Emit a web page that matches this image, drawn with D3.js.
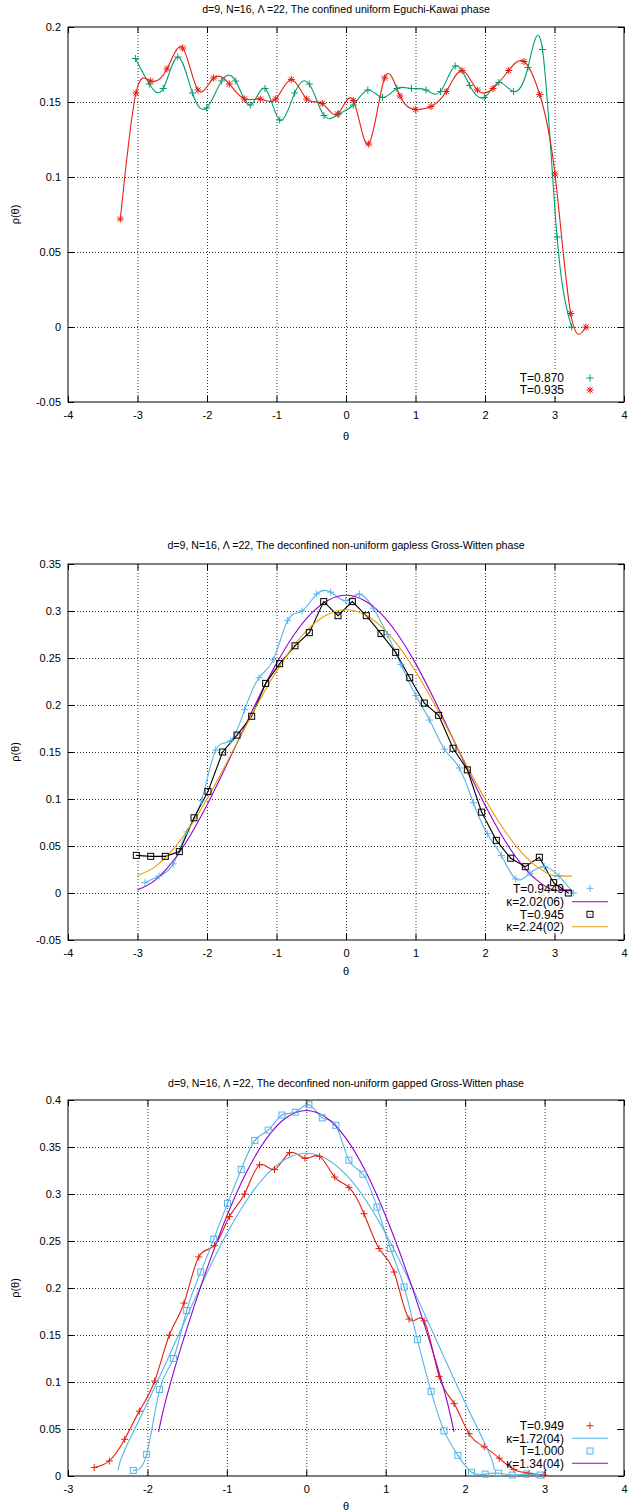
<!DOCTYPE html>
<html><head><meta charset="utf-8">
<script src="https://cdn.jsdelivr.net/npm/d3@7"></script>
<style>
body{margin:0;background:#fff}
text{font-family:"Liberation Sans",Arial,sans-serif;font-size:11px;fill:#000}
</style>
</head><body>
<svg id="c" width="630" height="1511"></svg>
<script>
// ---------------- Panel 1 data ----------------
const p1Title = "d=9, N=16, \u039B =22, The confined uniform Eguchi-Kawai phase";
const p1XTicks = [-4,-3,-2,-1,0,1,2,3,4];
const p1YTicks = [-0.05,0,0.05,0.1,0.15,0.2];
const p1YTickLabels = ["-0.05","0","0.05","0.1","0.15","0.2"];
const p1GreenTheta = [-3.030,-2.830,-2.630,-2.420,-2.210,-2.005,-1.790,-1.587,-1.377,-1.165,-0.954,-0.738,-0.528,-0.317,-0.105,0.105,0.314,0.524,0.733,0.942,1.152,1.361,1.571,1.780,1.990,2.199,2.409,2.618,2.827,3.037,3.246];
const p1GreenRho   = [0.179,0.162,0.159,0.180,0.156,0.146,0.164,0.164,0.148,0.159,0.138,0.156,0.162,0.141,0.142,0.148,0.158,0.153,0.159,0.159,0.158,0.157,0.174,0.161,0.153,0.163,0.157,0.173,0.185,0.060,0.000];
const p1RedTheta = [-3.247,-3.022,-2.810,-2.576,-2.350,-2.130,-1.904,-1.679,-1.463,-1.233,-1.012,-0.787,-0.566,-0.341,-0.120,0.105,0.326,0.556,0.777,1.003,1.223,1.443,1.669,1.890,2.115,2.341,2.561,2.787,3.007,3.233,3.453];
const p1RedRho   = [0.072,0.156,0.164,0.172,0.186,0.158,0.166,0.162,0.152,0.152,0.152,0.165,0.152,0.149,0.142,0.151,0.122,0.166,0.154,0.145,0.147,0.157,0.171,0.158,0.159,0.171,0.177,0.155,0.102,0.009,0.000];
const p1Legend = ["T=0.870","T=0.935"];

// ---------------- Panel 2 data ----------------
const p2Title = "d=9, N=16, \u039B =22, The deconfined non-uniform gapless Gross-Witten phase";
const p2XTicks = [-4,-3,-2,-1,0,1,2,3,4];
const p2YTicks = [-0.05,0,0.05,0.1,0.15,0.2,0.25,0.3,0.35];
const p2YTickLabels = ["-0.05","0","0.05","0.1","0.15","0.2","0.25","0.3","0.35"];
const p2BlueTheta = [-2.892,-2.690,-2.485,-2.290,-2.080,-1.875,-1.659,-1.458,-1.252,-1.046,-0.839,-0.633,-0.422,-0.220,-0.004,0.192,0.393,0.595,0.791,1.003,1.204,1.415,1.631,1.832,2.033,2.235,2.442,2.647,2.853,3.065,3.271];
const p2BlueRho   = [0.011,0.018,0.031,0.065,0.098,0.152,0.162,0.195,0.229,0.248,0.290,0.300,0.318,0.320,0.311,0.318,0.303,0.275,0.243,0.210,0.184,0.153,0.133,0.096,0.063,0.040,0.015,0.021,0.028,0.018,0.000];
const p2BlackTheta = [-3.017,-2.810,-2.600,-2.398,-2.187,-1.986,-1.775,-1.568,-1.357,-1.156,-0.955,-0.734,-0.528,-0.321,-0.115,0.091,0.292,0.504,0.715,0.917,1.127,1.333,1.540,1.746,1.952,2.163,2.370,2.580,2.782,2.988,3.199];
const p2BlackRho   = [0.040,0.039,0.039,0.044,0.080,0.108,0.150,0.168,0.188,0.223,0.244,0.263,0.277,0.310,0.295,0.310,0.295,0.276,0.256,0.229,0.202,0.189,0.154,0.131,0.086,0.056,0.037,0.028,0.038,0.011,0.000];
const p2FitTheta = [-3,-2.75,-2.5,-2.25,-2,-1.75,-1.5,-1.25,-1,-0.75,-0.5,-0.25,0,0.25,0.5,0.75,1,1.25,1.5,1.75,2,2.25,2.5,2.75,3,3.25];
const p2PurpleRho = [0.0032,0.0135,0.0329,0.0602,0.0936,0.1311,0.1703,0.2088,0.2443,0.2745,0.2974,0.3118,0.3167,0.3118,0.2974,0.2745,0.2443,0.2088,0.1703,0.1311,0.0936,0.0602,0.0329,0.0135,0.0032,0.0025];
const p2OrangeRho = [0.0185,0.0278,0.0453,0.0699,0.1000,0.1338,0.1692,0.2040,0.2359,0.2631,0.2839,0.2968,0.3013,0.2968,0.2839,0.2631,0.2359,0.2040,0.1692,0.1338,0.1000,0.0699,0.0453,0.0278,0.0185,0.0179];
const p2Legend = ["T=0.9449","\u03BA=2.02(06)","T=0.945","\u03BA=2.24(02)"];

// ---------------- Panel 3 data ----------------
const p3Title = "d=9, N=16, \u039B =22, The deconfined non-uniform gapped Gross-Witten phase";
const p3XTicks = [-3,-2,-1,0,1,2,3,4];
const p3YTicks = [0,0.05,0.1,0.15,0.2,0.25,0.3,0.35,0.4];
const p3YTickLabels = ["0","0.05","0.1","0.15","0.2","0.25","0.3","0.35","0.4"];
const p3RedTheta = [-2.670,-2.480,-2.287,-2.102,-1.909,-1.724,-1.539,-1.354,-1.156,-0.967,-0.778,-0.589,-0.400,-0.211,-0.017,0.168,0.357,0.537,0.727,0.916,1.105,1.294,1.483,1.672,1.861,2.050,2.240,2.429,2.614,2.803,2.992];
const p3RedRho   = [0.009,0.016,0.039,0.069,0.101,0.150,0.184,0.233,0.245,0.276,0.300,0.331,0.326,0.344,0.338,0.340,0.318,0.307,0.279,0.242,0.217,0.167,0.165,0.106,0.077,0.045,0.031,0.019,0.007,0.003,0.001];
const p3SquareTheta = [-2.178,-2.010,-1.846,-1.673,-1.506,-1.329,-1.165,-0.992,-0.820,-0.648,-0.479,-0.307,-0.139,0.033,0.202,0.373,0.537,0.714,0.890,1.059,1.231,1.399,1.571,1.735,1.908,2.080,2.252,2.421,2.593,2.769,2.942];
const p3SquareRho   = [0.006,0.023,0.092,0.125,0.176,0.217,0.252,0.290,0.326,0.357,0.368,0.384,0.387,0.395,0.381,0.373,0.336,0.321,0.286,0.242,0.201,0.145,0.090,0.048,0.022,0.004,0.002,0.003,0.001,0.002,0.001];
const p3BlueFitTheta = [-2.37,-2.35,-2.3,-2.25,-2.125,-2,-1.75,-1.5,-1.25,-1,-0.75,-0.5,-0.25,0,0.25,0.5,0.75,1,1.25,1.5,1.75,2,2.125,2.25,2.3,2.35,2.37];
const p3BlueFitRho   = [0.0060,0.0134,0.0248,0.0342,0.0561,0.0780,0.1235,0.1703,0.2160,0.2579,0.2934,0.3205,0.3375,0.3433,0.3375,0.3205,0.2934,0.2579,0.2160,0.1703,0.1235,0.0780,0.0561,0.0342,0.0248,0.0134,0.0060];
const p3PurpleFitTheta = [-1.86,-1.8,-1.75,-1.625,-1.5,-1.25,-1,-0.75,-0.5,-0.25,0,0.25,0.5,0.75,1,1.25,1.5,1.625,1.75,1.8,1.86];
const p3PurpleFitRho   = [0.0470,0.0701,0.0866,0.1235,0.1575,0.2206,0.2766,0.3236,0.3592,0.3814,0.3889,0.3814,0.3592,0.3236,0.2766,0.2206,0.1575,0.1235,0.0866,0.0701,0.0470];
const p3Legend = ["T=0.949","\u03BA=1.72(04)","T=1.000","\u03BA=1.34(04)"];

// ---------------- colours ----------------
const C_GREEN="#009e73", C_RED="#e51e10", C_SKY="#56b4e9", C_PURPLE="#9400d3", C_ORANGE="#e69f00", C_BLACK="#000000";

const svg = d3.select("#c");
const xL = 68, xR = 624;
const zip = (a,b) => a.map((v,i)=>[v,b[i]]);

function marker(g, type, px, py, color){
  const s = 3.5;
  if(type==="plus" || type==="star"){
    g.append("path").attr("d",`M${px-s},${py}H${px+s}M${px},${py-s}V${py+s}`)
      .attr("stroke",color).attr("stroke-width",1).attr("fill","none");
  }
  if(type==="star"){
    const t=2.6;
    g.append("path").attr("d",`M${px-t},${py-t}L${px+t},${py+t}M${px-t},${py+t}L${px+t},${py-t}`)
      .attr("stroke",color).attr("stroke-width",1).attr("fill","none");
  }
  if(type==="square"){
    g.append("rect").attr("x",px-3).attr("y",py-3).attr("width",6).attr("height",6)
      .attr("stroke",color).attr("stroke-width",1).attr("fill","none");
    g.append("rect").attr("x",px-0.5).attr("y",py-0.5).attr("width",1).attr("height",1).attr("fill",color);
  }
}

let clipId = 0;
function panel(cfg){
  const x = d3.scaleLinear().domain(cfg.xDom).range([xL,xR]);
  const y = d3.scaleLinear().domain(cfg.yDom).range([cfg.yBot,cfg.yTop]);
  const g = svg.append("g");
  const h = cfg.yBot-cfg.yTop, w = xR-xL;

  // grid
  g.append("g").attr("transform",`translate(0,${cfg.yBot})`)
    .call(d3.axisBottom(x).tickValues(cfg.xTicks.filter(v=>v>cfg.xDom[0]&&v<cfg.xDom[1])).tickSize(-h).tickFormat(""))
    .call(a=>a.select(".domain").remove())
    .call(a=>a.selectAll("line").attr("stroke","#333").attr("stroke-dasharray","1,2"));
  g.append("g").attr("transform",`translate(${xL},0)`)
    .call(d3.axisLeft(y).tickValues(cfg.yTicks.filter(v=>v>cfg.yDom[0]+1e-9&&v<cfg.yDom[1]-1e-9)).tickSize(-w).tickFormat(""))
    .call(a=>a.select(".domain").remove())
    .call(a=>a.selectAll("line").attr("stroke","#333").attr("stroke-dasharray","1,2"));
  // key area blanks the grid
  const k = cfg.key;
  g.append("rect").attr("x",k[0]).attr("y",k[1]).attr("width",k[2]-k[0]).attr("height",k[3]-k[1]).attr("fill","#fff");

  // axes with inward ticks
  const fmtX = d=>String(d);
  const fmtY = d=>cfg.yTickLabels[cfg.yTicks.indexOf(d)];
  g.append("g").attr("transform",`translate(0,${cfg.yBot})`)
    .call(d3.axisBottom(x).tickValues(cfg.xTicks).tickSizeInner(-6).tickSizeOuter(0).tickPadding(9).tickFormat(fmtX))
    .call(a=>a.select(".domain").remove())
    .call(a=>a.selectAll("text").attr("font-size",11).attr("font-family","Liberation Sans, Arial, sans-serif"));
  g.append("g").attr("transform",`translate(0,${cfg.yTop})`)
    .call(d3.axisTop(x).tickValues(cfg.xTicks).tickSizeInner(-6).tickSizeOuter(0).tickFormat(""))
    .call(a=>a.select(".domain").remove());
  g.append("g").attr("transform",`translate(${xL},0)`)
    .call(d3.axisLeft(y).tickValues(cfg.yTicks).tickSizeInner(-6).tickSizeOuter(0).tickPadding(7).tickFormat(fmtY))
    .call(a=>a.select(".domain").remove())
    .call(a=>a.selectAll("text").attr("font-size",11).attr("font-family","Liberation Sans, Arial, sans-serif"));
  g.append("g").attr("transform",`translate(${xR},0)`)
    .call(d3.axisRight(y).tickValues(cfg.yTicks).tickSizeInner(-6).tickSizeOuter(0).tickFormat(""))
    .call(a=>a.select(".domain").remove());
  g.selectAll(".tick line").filter(function(){return !this.getAttribute("stroke-dasharray");}).attr("stroke","#000");

  g.append("rect").attr("x",xL).attr("y",cfg.yTop).attr("width",w).attr("height",h)
    .attr("fill","none").attr("stroke","#000").attr("stroke-width",1);

  // title and labels
  g.append("text").attr("x",(xL+xR)/2).attr("y",cfg.titleY).attr("text-anchor","middle").style("font-size","10.6px").text(cfg.title);
  g.append("text").attr("x",(xL+xR)/2).attr("y",cfg.xLabelY).attr("text-anchor","middle").text("\u03B8");
  g.append("text").attr("transform",`translate(19,${(cfg.yTop+cfg.yBot)/2}) rotate(-90)`).attr("text-anchor","middle").text("\u03C1(\u03B8)");

  // clip for lines
  const id = "clip"+(clipId++);
  svg.append("clipPath").attr("id",id).append("rect").attr("x",xL).attr("y",cfg.yTop).attr("width",w).attr("height",h);
  const dg = g.append("g");
  const lg = dg.append("g").attr("clip-path",`url(#${id})`);

  cfg.series.forEach(s=>{
    const pts = zip(s.xs,s.ys);
    const line = d3.line().x(d=>x(d[0])).y(d=>y(d[1])).curve(s.curve);
    lg.append("path").datum(pts).attr("d",line).attr("fill","none").attr("stroke",s.color).attr("stroke-width",1.1);
    if(s.marker){
      pts.forEach(p=>marker(dg,s.marker,x(p[0]),y(p[1]),s.color));
    }
  });

  // legend
  cfg.legend.forEach((L,i)=>{
    const cy = cfg.keyRows[i];
    g.append("text").attr("x",564).attr("y",cy+4.3).attr("text-anchor","end").style("font-size","12px").text(L.label);
    if(L.marker) marker(g,L.marker,590,cy,L.color);
    else g.append("line").attr("x1",572).attr("x2",608).attr("y1",cy).attr("y2",cy).attr("stroke",L.color).attr("stroke-width",1.1);
  });
}

panel({
  title:p1Title, titleY:13, xLabelY:440,
  xDom:[-4,4], yDom:[-0.05,0.2], yTop:27, yBot:402,
  xTicks:p1XTicks, yTicks:p1YTicks, yTickLabels:p1YTickLabels,
  key:[505,370,616,397], keyRows:[378,390],
  series:[
    {xs:p1GreenTheta, ys:p1GreenRho, color:C_GREEN, marker:"plus", curve:d3.curveNatural},
    {xs:p1RedTheta, ys:p1RedRho, color:C_RED, marker:"star", curve:d3.curveNatural}
  ],
  legend:[{label:p1Legend[0],marker:"plus",color:C_GREEN},{label:p1Legend[1],marker:"star",color:C_RED}]
});

panel({
  title:p2Title, titleY:549, xLabelY:975,
  xDom:[-4,4], yDom:[-0.05,0.35], yTop:564, yBot:940,
  xTicks:p2XTicks, yTicks:p2YTicks, yTickLabels:p2YTickLabels,
  key:[490,881,616,933], keyRows:[888.3,901.7,914.3,926.7],
  series:[
    {xs:p2BlueTheta, ys:p2BlueRho, color:C_SKY, marker:"plus", curve:d3.curveNatural},
    {xs:p2FitTheta, ys:p2PurpleRho, color:C_PURPLE, curve:d3.curveMonotoneX},
    {xs:p2BlackTheta, ys:p2BlackRho, color:C_BLACK, marker:"square", curve:d3.curveLinear},
    {xs:p2FitTheta, ys:p2OrangeRho, color:C_ORANGE, curve:d3.curveMonotoneX}
  ],
  legend:[{label:p2Legend[0],marker:"plus",color:C_SKY},{label:p2Legend[1],color:C_PURPLE},
          {label:p2Legend[2],marker:"square",color:C_BLACK},{label:p2Legend[3],color:C_ORANGE}]
});

panel({
  title:p3Title, titleY:1087, xLabelY:1510,
  xDom:[-3,4], yDom:[0,0.4], yTop:1100, yBot:1476,
  xTicks:p3XTicks, yTicks:p3YTicks, yTickLabels:p3YTickLabels,
  key:[490,1419,616,1470], keyRows:[1425.7,1438.3,1451,1463.3],
  series:[
    {xs:p3RedTheta, ys:p3RedRho, color:C_RED, marker:"plus", curve:d3.curveNatural},
    {xs:p3BlueFitTheta, ys:p3BlueFitRho, color:C_SKY, curve:d3.curveMonotoneX},
    {xs:p3SquareTheta, ys:p3SquareRho, color:C_SKY, marker:"square", curve:d3.curveNatural},
    {xs:p3PurpleFitTheta, ys:p3PurpleFitRho, color:C_PURPLE, curve:d3.curveMonotoneX}
  ],
  legend:[{label:p3Legend[0],marker:"plus",color:C_RED},{label:p3Legend[1],color:C_SKY},
          {label:p3Legend[2],marker:"square",color:C_SKY},{label:p3Legend[3],color:C_PURPLE}]
});
</script>
</body></html>
